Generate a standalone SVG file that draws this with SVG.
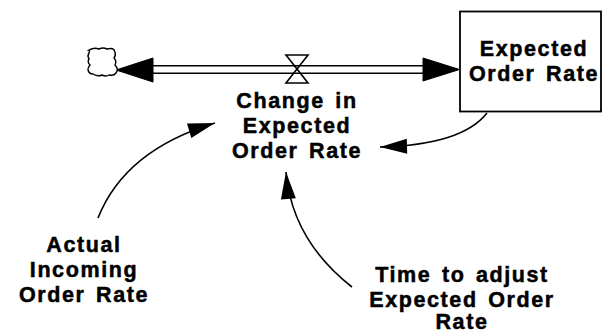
<svg xmlns="http://www.w3.org/2000/svg" width="603" height="331" viewBox="0 0 603 331">
<style>
.lbl{font-family:"Liberation Sans",Arial,sans-serif;font-weight:bold;font-size:21.5px;letter-spacing:1.6px;word-spacing:3px;fill:#000;stroke:#000;stroke-width:0.5px;text-anchor:middle}
.pipe{stroke:#000;stroke-width:1.6;fill:none}
.link{stroke:#000;stroke-width:1.6;fill:none;marker-end:url(#ah)}
.head{fill:#000;stroke:#000;stroke-width:1}
</style>
<defs>
<marker id="ah" markerUnits="userSpaceOnUse" viewBox="-28 -9 30 18" refX="0" refY="0" markerWidth="30" markerHeight="18" orient="auto">
<path d="M0,0 L-27,-7.5 L-27,7.5 Z" fill="#000"/>
</marker>
</defs>
<rect width="603" height="331" fill="#fff"/>
<g id="connectors">
<g id="flow-pipe">
<line class="pipe" x1="150" y1="65.7" x2="426" y2="65.7"/>
<line class="pipe" x1="150" y1="73.3" x2="426" y2="73.3"/>
<polygon class="head" points="116,70 153,58 153,82"/>
<polygon class="head" points="459.5,69.5 423,58 423,81"/>
</g>
<path class="link" d="M487,113 Q462,145 380,147"/>
<path class="link" d="M98,218 Q125,150 215,123"/>
<path class="link" d="M352,287 Q292,240 286,172"/>
</g>
<g id="cloud">
<path d="M89,50 q5,-3 10,-1 q4,-2 8,0 q7,-2 8,3 q1,4 -1,6 q3,3 1,7 q4,4 1,8 q-2,3 -7,2 q-3,2 -7,0 q-4,2 -9,-1 q-4,0 -5,-4 q0,-3 2,-5 q-3,-3 -1,-6 q-2,-3 0,-6 q1,-3 0,-3 Z" fill="#fff" stroke="#000" stroke-width="1.4"/>
</g>
<g id="valve">
<path d="M286,55 L308,55 L286,83 L308,83 Z" fill="none" stroke="#000" stroke-width="1.6" stroke-linejoin="miter"/>
</g>
<g id="change-in-expected-order-rate">
<text class="lbl" x="297" y="108">Change in</text>
<text class="lbl" x="297" y="133">Expected</text>
<text class="lbl" x="297" y="158">Order Rate</text>
</g>
<g id="expected-order-rate">
<rect x="460" y="11.5" width="141" height="100" fill="#fff" stroke="#000" stroke-width="1.8"/>
<text class="lbl" x="534" y="55.5">Expected</text>
<text class="lbl" x="534" y="81">Order Rate</text>
</g>
<g id="actual-incoming-order-rate">
<text class="lbl" x="84" y="252">Actual</text>
<text class="lbl" x="84" y="277">Incoming</text>
<text class="lbl" x="84" y="302">Order Rate</text>
</g>
<g id="time-to-adjust">
<text class="lbl" x="462" y="282">Time to adjust</text>
<text class="lbl" x="462" y="307">Expected Order</text>
<text class="lbl" x="462" y="329">Rate</text>
</g>
</svg>
